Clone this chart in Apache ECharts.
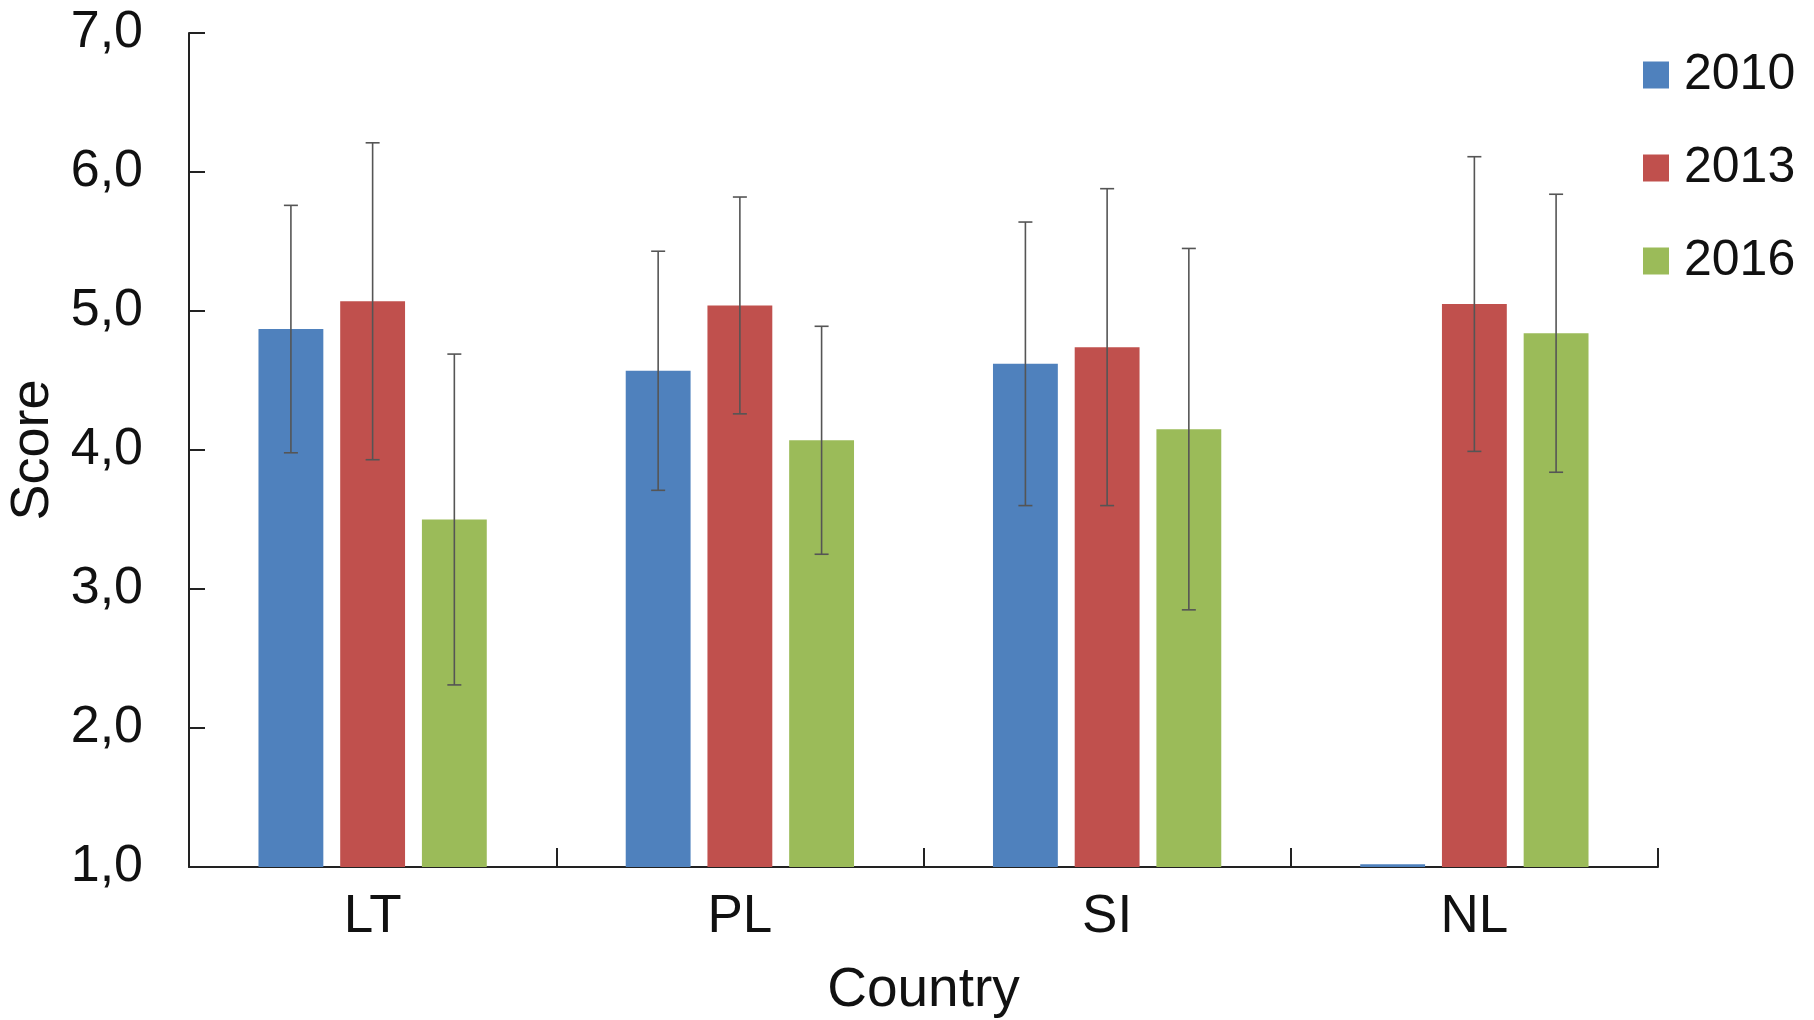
<!DOCTYPE html>
<html>
<head>
<meta charset="utf-8">
<script src="https://cdn.jsdelivr.net/npm/echarts@6/dist/echarts.min.js"></script>
<style>html,body{margin:0;padding:0;background:#fff}#c{width:1814px;height:1020px}</style>
</head>
<body>
<div id="c"></div>
<script>
const categories = ['LT', 'PL', 'SI', 'NL'];
const years = ['2010', '2013', '2016'];
const mean2010 = [4.87, 4.57, 4.62, 1.02];
const mean2013 = [5.07, 5.04, 4.74, 5.05];
const mean2016 = [3.50, 4.07, 4.15, 4.84];
const sd2010 = [0.89, 0.86, 1.02, null];
const sd2013 = [1.14, 0.78, 1.14, 1.06];
const sd2016 = [1.19, 0.82, 1.30, 1.00];
const yTicks = [1, 2, 3, 4, 5, 6, 7];

const means = [mean2010, mean2013, mean2016];
const sds = [sd2010, sd2013, sd2016];
const colors = ['#4F81BD', '#C0504D', '#9BBB59'];
const FONT = '"Liberation Sans", Arial, Helvetica, sans-serif';
const BAR_FRAC = 0.1766, GAP = 0.26;

const errData = [];
means.forEach((m, s) => {
  m.forEach((v, i) => {
    if (sds[s][i] != null) errData.push([i, s, v - sds[s][i], v + sds[s][i]]);
  });
});

const chart = echarts.init(document.getElementById('c'), null, {renderer: 'canvas'});
const series = years.map((y, s) => ({
  name: y, type: 'bar', data: means[s],
  barWidth: (BAR_FRAC * 100) + '%', barGap: (GAP * 100) + '%',
  itemStyle: {color: colors[s]}, z: 2
}));
series.push({
  type: 'custom', name: 'err', z: 5,
  data: errData,
  renderItem: function (params, api) {
    const ci = api.value(0), si = api.value(1);
    const band = api.size([1, 0])[0];
    const w = band * BAR_FRAC;
    const off = (si - 1) * w * (1 + GAP);
    const lo = api.coord([ci, api.value(2)]);
    const hi = api.coord([ci, api.value(3)]);
    const x = lo[0] + off;
    const cap = 7;
    const st = {stroke: '#555', lineWidth: 1.6};
    return {type: 'group', children: [
      {type: 'line', shape: {x1: x, y1: lo[1], x2: x, y2: hi[1]}, style: st},
      {type: 'line', shape: {x1: x - cap, y1: lo[1], x2: x + cap, y2: lo[1]}, style: st},
      {type: 'line', shape: {x1: x - cap, y1: hi[1], x2: x + cap, y2: hi[1]}, style: st}
    ]};
  }
});

chart.setOption({
  animation: false,
  backgroundColor: '#fff',
  grid: {left: 189, right: 156, top: 33, bottom: 153, containLabel: false, outerBoundsMode: 'none'},
  legend: {
    data: years, orient: 'vertical', left: 1638, top: 40,
    itemWidth: 26, itemHeight: 27, itemGap: 33,
    icon: 'rect',
    textStyle: {fontFamily: FONT, fontSize: 50, color: '#111', lineHeight: 60, padding: [0, 0, 0, 10]}
  },
  xAxis: {
    type: 'category', data: categories,
    name: 'Country', nameLocation: 'middle', nameGap: 96,
    nameTextStyle: {fontFamily: FONT, fontSize: 55, color: '#111'},
    axisLine: {lineStyle: {color: '#222', width: 2}},
    axisTick: {show: true, inside: true, length: 19, lineStyle: {color: '#222', width: 2}},
    axisLabel: {fontFamily: FONT, fontSize: 53, color: '#111', margin: 24}
  },
  yAxis: {
    type: 'value', min: 1, max: 7, interval: 1,
    name: 'Score', nameLocation: 'middle', nameGap: 122, nameRotate: 90,
    nameTextStyle: {fontFamily: FONT, fontSize: 54, color: '#111'},
    axisLine: {show: true, lineStyle: {color: '#222', width: 2}},
    axisTick: {show: true, inside: true, length: 16, lineStyle: {color: '#222', width: 2}},
    splitLine: {show: false},
    axisLabel: {fontFamily: FONT, fontSize: 52, color: '#111', margin: 46,
      formatter: v => yTicks.includes(v) ? v.toFixed(1).replace('.', ',') : ''}
  },
  series: series
});
</script>
</body>
</html>
